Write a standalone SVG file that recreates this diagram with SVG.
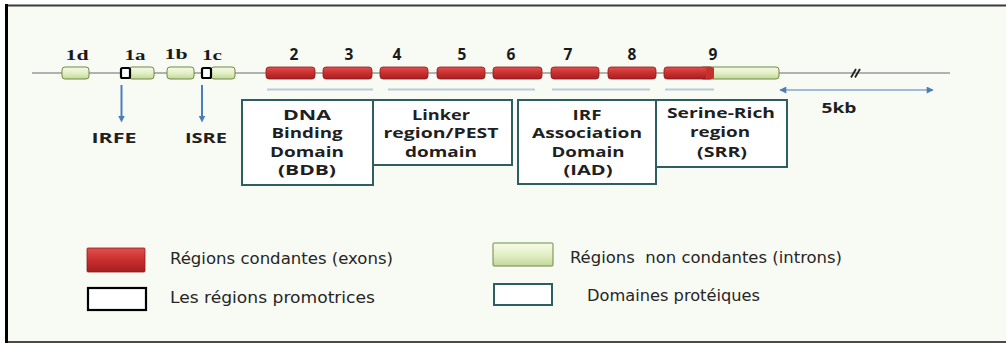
<svg xmlns="http://www.w3.org/2000/svg" width="1006" height="343" viewBox="0 0 1006 343">
  <defs>
    <linearGradient id="exonFill" x1="0" y1="0" x2="0" y2="1">
      <stop offset="0" stop-color="#e0504c"/>
      <stop offset="0.5" stop-color="#c92f2f"/>
      <stop offset="1" stop-color="#a51f22"/>
    </linearGradient>
    <linearGradient id="intronFill" x1="0" y1="0" x2="0" y2="1">
      <stop offset="0" stop-color="#f6fbe8"/>
      <stop offset="0.5" stop-color="#e3efc6"/>
      <stop offset="1" stop-color="#c3d79b"/>
    </linearGradient>
    <marker id="arrowDown" viewBox="0 0 10 10" refX="5" refY="5" markerWidth="3.5" markerHeight="3.5" orient="auto">
      <path d="M0,0 L10,5 L0,10 z" fill="#4a7ebb"/>
    </marker>
    <marker id="arrowThin" viewBox="0 0 10 10" refX="9" refY="5" markerWidth="9" markerHeight="7" markerUnits="userSpaceOnUse" orient="auto-start-reverse">
      <path d="M0,0 L10,5 L0,10 z" fill="#4a7ebb"/>
    </marker>
  </defs>
  <style>
    .exon { fill: url(#exonFill); stroke: #8e1c1e; stroke-width: 0.8; }
    .intron { fill: url(#intronFill); stroke: #6f8a45; stroke-width: 1; }
    .promoter { fill: #ffffff; stroke: #000000; stroke-width: 2.2; }
    .domain { fill: #ffffff; stroke: #2f5e60; stroke-width: 2; }
    .span { stroke: #b9c9d6; stroke-width: 2; }
    .gene { stroke: #6a6a6a; stroke-width: 1; }
    .num { font-family: "Open Sans", "Liberation Sans", sans-serif; font-weight: 700; font-size: 15.5px; fill: #1a1a1a; text-anchor: middle; }
    .exon1 { font-family: "Liberation Serif", serif; font-weight: 700; font-size: 15px; fill: #1a1a1a; text-anchor: middle; }
    .lbl { font-family: "Open Sans", "Liberation Sans", sans-serif; font-weight: 700; font-size: 14px; fill: #1f1f1f; text-anchor: middle; }
    .leg { font-family: "DejaVu Sans Condensed", "DejaVu Sans", sans-serif; font-size: 15.5px; fill: #262626; }
  </style>

  <!-- page and frame -->
  <rect x="0" y="0" width="1006" height="343" fill="#ffffff"/>
  <rect x="6" y="5" width="1000" height="337" fill="#f8faf4"/>
  <line x1="5" y1="5.5" x2="1006" y2="5.5" stroke="#3a3a3a" stroke-width="2"/>
  <line x1="5" y1="342" x2="1006" y2="342" stroke="#4a4a4a" stroke-width="2"/>
  <line x1="6.5" y1="4" x2="6.5" y2="343" stroke="#000000" stroke-width="3"/>

  <!-- connectors -->
  <g id="connectors">
    <line class="gene" x1="32" y1="73" x2="950" y2="73"/>
    <line x1="851" y1="77.5" x2="856" y2="69" stroke="#222" stroke-width="1.8"/>
    <line x1="855" y1="77.5" x2="860" y2="69" stroke="#222" stroke-width="1.8"/>
    <line x1="121.5" y1="85" x2="121.5" y2="119" stroke="#4a7ebb" stroke-width="2" marker-end="url(#arrowDown)"/>
    <line x1="202" y1="85" x2="202" y2="119" stroke="#4a7ebb" stroke-width="2" marker-end="url(#arrowDown)"/>
    <line class="span" x1="267" y1="89.5" x2="373" y2="89.5"/>
    <line class="span" x1="388" y1="89.5" x2="535" y2="89.5"/>
    <line class="span" x1="552" y1="89.5" x2="650" y2="89.5"/>
    <line class="span" x1="665" y1="89.5" x2="714" y2="89.5"/>
    <line x1="780" y1="90" x2="933" y2="90" stroke="#4a7ebb" stroke-width="1" marker-start="url(#arrowThin)" marker-end="url(#arrowThin)"/>
  </g>

  <!-- first exons and promoters -->
  <g id="exon-1d">
    <rect class="intron" x="62" y="67" width="27" height="12" rx="3"/>
    <text class="exon1" x="77" y="60" textLength="23" lengthAdjust="spacingAndGlyphs">1d</text>
  </g>
  <g id="exon-1a">
    <rect class="intron" x="129" y="67" width="25" height="12" rx="3"/>
    <rect class="promoter" x="121" y="68" width="9" height="10" rx="1.5"/>
    <text class="exon1" x="135" y="60" textLength="21" lengthAdjust="spacingAndGlyphs">1a</text>
  </g>
  <g id="exon-1b">
    <rect class="intron" x="167" y="67" width="27" height="12" rx="3"/>
    <text class="exon1" x="176" y="59" textLength="23" lengthAdjust="spacingAndGlyphs">1b</text>
  </g>
  <g id="exon-1c">
    <rect class="intron" x="211" y="67" width="24" height="12" rx="3"/>
    <rect class="promoter" x="202" y="68" width="9" height="10" rx="1.5"/>
    <text class="exon1" x="212" y="60" textLength="20" lengthAdjust="spacingAndGlyphs">1c</text>
  </g>

  <!-- coding exons -->
  <g id="exon-2"><rect class="exon" x="266" y="67" width="49" height="12" rx="3"/><text class="num" x="294" y="60">2</text></g>
  <g id="exon-3"><rect class="exon" x="323" y="67" width="49" height="12" rx="3"/><text class="num" x="349" y="60">3</text></g>
  <g id="exon-4"><rect class="exon" x="380" y="67" width="48" height="12" rx="3"/><text class="num" x="397" y="60">4</text></g>
  <g id="exon-5"><rect class="exon" x="437" y="67" width="48" height="12" rx="3"/><text class="num" x="462" y="60">5</text></g>
  <g id="exon-6"><rect class="exon" x="493" y="67" width="49" height="12" rx="3"/><text class="num" x="511" y="60">6</text></g>
  <g id="exon-7"><rect class="exon" x="551" y="67" width="48" height="12" rx="3"/><text class="num" x="568" y="60">7</text></g>
  <g id="exon-8"><rect class="exon" x="608" y="67" width="48" height="12" rx="3"/><text class="num" x="632" y="60">8</text></g>
  <g id="exon-9">
    <rect class="intron" x="700" y="67" width="79" height="12" rx="3"/>
    <rect class="exon" x="664" y="67" width="49" height="12" rx="3"/>
    <rect x="706" y="67.4" width="8" height="11.2" fill="#c92f2f"/>
    <text class="num" x="713" y="60">9</text>
  </g>

  <!-- promoter element labels -->
  <g id="label-irfe"><text class="lbl" x="114" y="143" textLength="45" lengthAdjust="spacingAndGlyphs">IRFE</text></g>
  <g id="label-isre"><text class="lbl" x="206" y="143" textLength="42" lengthAdjust="spacingAndGlyphs">ISRE</text></g>
  <g id="label-5kb"><text class="lbl" x="839" y="113" textLength="35" lengthAdjust="spacingAndGlyphs">5kb</text></g>

  <!-- protein domains -->
  <g id="domain-bdb">
    <rect class="domain" x="242" y="100" width="131" height="85"/>
    <text class="lbl" x="307" y="120" textLength="48" lengthAdjust="spacingAndGlyphs">DNA</text>
    <text class="lbl" x="307" y="138" textLength="71" lengthAdjust="spacingAndGlyphs">Binding</text>
    <text class="lbl" x="307" y="157" textLength="74" lengthAdjust="spacingAndGlyphs">Domain</text>
    <text class="lbl" x="307" y="175" textLength="58" lengthAdjust="spacingAndGlyphs">(BDB)</text>
  </g>
  <g id="domain-pest">
    <rect class="domain" x="373" y="100" width="139" height="65"/>
    <text class="lbl" x="441" y="120" textLength="58" lengthAdjust="spacingAndGlyphs">Linker</text>
    <text class="lbl" x="441" y="138" textLength="115" lengthAdjust="spacingAndGlyphs">region/PEST</text>
    <text class="lbl" x="441" y="157" textLength="72" lengthAdjust="spacingAndGlyphs">domain</text>
  </g>
  <g id="domain-iad">
    <rect class="domain" x="518" y="100" width="138" height="84"/>
    <text class="lbl" x="587" y="120" textLength="29" lengthAdjust="spacingAndGlyphs">IRF</text>
    <text class="lbl" x="587" y="138" textLength="110" lengthAdjust="spacingAndGlyphs">Association</text>
    <text class="lbl" x="588" y="157" textLength="73" lengthAdjust="spacingAndGlyphs">Domain</text>
    <text class="lbl" x="588" y="175" textLength="49" lengthAdjust="spacingAndGlyphs">(IAD)</text>
  </g>
  <g id="domain-srr">
    <rect class="domain" x="656" y="100" width="131" height="67"/>
    <text class="lbl" x="721" y="118" textLength="108" lengthAdjust="spacingAndGlyphs">Serine-Rich</text>
    <text class="lbl" x="720" y="137" textLength="60" lengthAdjust="spacingAndGlyphs">region</text>
    <text class="lbl" x="722" y="157" textLength="50" lengthAdjust="spacingAndGlyphs">(SRR)</text>
  </g>

  <!-- key -->
  <g id="legend-exons">
    <rect class="exon" x="87" y="248" width="58" height="24" rx="1"/>
    <text class="leg" x="170" y="264" textLength="223" lengthAdjust="spacingAndGlyphs">Régions condantes (exons)</text>
  </g>
  <g id="legend-promoters">
    <rect class="promoter" x="88" y="288" width="58" height="22"/>
    <text class="leg" x="170" y="303" textLength="205" lengthAdjust="spacingAndGlyphs">Les régions promotrices</text>
  </g>
  <g id="legend-introns">
    <rect class="intron" x="493" y="243" width="60" height="23" rx="1" stroke-width="1.5"/>
    <text class="leg" x="570" y="263" textLength="272" lengthAdjust="spacingAndGlyphs" xml:space="preserve">Régions  non condantes (introns)</text>
  </g>
  <g id="legend-domains">
    <rect class="domain" x="494" y="284" width="58" height="21"/>
    <text class="leg" x="587" y="301" textLength="173" lengthAdjust="spacingAndGlyphs">Domaines protéiques</text>
  </g>
</svg>
